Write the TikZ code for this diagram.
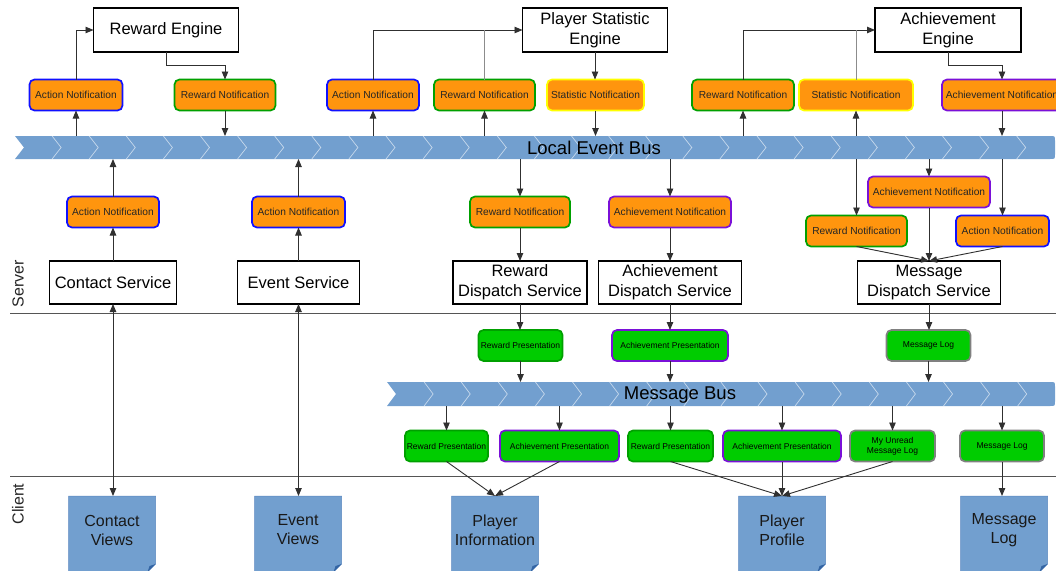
\documentclass[tikz,border=0pt]{standalone}
\usepackage{fontspec}
\setmainfont{Liberation Sans}
\usetikzlibrary{arrows.meta,backgrounds,calc}

\definecolor{notiforange}{HTML}{FF950E}
\definecolor{edgeblue}{HTML}{1010FF}
\definecolor{edgegreen}{HTML}{00A000}
\definecolor{edgeyellow}{HTML}{FFFF00}
\definecolor{edgepurple}{HTML}{7A10D8}
\definecolor{presgreen}{HTML}{00CC00}
\definecolor{presedge}{HTML}{00A000}
\definecolor{loggray}{HTML}{808080}
\definecolor{busblue}{HTML}{729FCF}
\definecolor{docblue}{HTML}{729FCF}
\definecolor{docedge}{HTML}{5B87C0}
\definecolor{folddark}{HTML}{3465A4}
\definecolor{wire}{HTML}{303030}
\definecolor{wirelight}{HTML}{8C8C8C}
\definecolor{rulegray}{HTML}{555555}

\tikzset{
  every node/.style={inner sep=0pt, outer sep=0pt},
  engine/.style={draw=black, line width=1.8pt, fill=white, align=center,
    font=\fontsize{16.5}{20}\selectfont, minimum height=44},
  notif/.style={rounded corners=5pt, fill=notiforange, line width=1.7pt,
    minimum height=31, font=\fontsize{10.2}{12}\selectfont, text=black!85},
  nblue/.style={notif, draw=edgeblue},
  ngreen/.style={notif, draw=edgegreen},
  nyellow/.style={notif, draw=edgeyellow},
  npurple/.style={notif, draw=edgepurple},
  pres/.style={rounded corners=5pt, fill=presgreen, line width=1.7pt, align=center,
    minimum height=31, font=\fontsize{8.5}{10}\selectfont},
  presR/.style={pres, draw=presedge},
  presA/.style={pres, draw=edgepurple},
  presL/.style={pres, draw=loggray},
  doc/.style={minimum width=87, minimum height=68, align=center,
    font=\fontsize{16}{19}\selectfont, text=black!90},
  buslabel/.style={font=\fontsize{18.5}{20}\selectfont, text=black},
  tierlabel/.style={rotate=90, font=\fontsize{16}{18}\selectfont, text=black!85},
  arr/.style={draw=wire, line width=0.9pt, -{Triangle[length=8pt,width=6.5pt]}},
  twoway/.style={draw=wire, line width=0.9pt,
    {Triangle[length=8pt,width=6.5pt]}-{Triangle[length=8pt,width=6.5pt]}},
  joinline/.style={draw=wirelight, line width=0.9pt},
  tierrule/.style={draw=rulegray, line width=0.8pt},
  chevron/.style={draw=white, draw opacity=0.6, line width=0.7pt},
}

\begin{document}
\begin{tikzpicture}[x=1pt, y=-1pt]
\useasboundingbox (0,0) rectangle (1056,570);

% ---------- engines ----------
\node[engine, minimum width=145] (reng) at (166,30) {Reward Engine};
\node[engine, minimum width=145] (peng) at (595,30) {Player Statistic\\Engine};
\node[engine, minimum width=146] (aeng) at (948,30) {Achievement\\Engine};

% ---------- notifications above the local event bus ----------
\node[nblue,   minimum width=93]  (an1)   at (76,95)    {Action Notification};
\node[ngreen,  minimum width=101] (rn1)   at (225,95)   {Reward Notification};
\node[nblue,   minimum width=92]  (an2)   at (373,95)   {Action Notification};
\node[ngreen,  minimum width=101] (rn2)   at (484.5,95) {Reward Notification};
\node[nyellow, minimum width=97]  (sn1)   at (595.5,95) {Statistic Notification};
\node[ngreen,  minimum width=102] (rn3)   at (743,95)   {Reward Notification};
\node[nyellow, minimum width=114] (sn2)   at (856,95)   {Statistic Notification};
\node[npurple, minimum width=120] (achn1) at (1002,95)  {Achievement Notification};

% ---------- local event bus ----------
\node[minimum width=1040, minimum height=23] (leb) at (535,147.5) {};
\fill[busblue] (leb.north west) -- ([xshift=-5pt]leb.north east)
  .. controls (leb.north east) .. ([yshift=-5pt]leb.north east)
  -- ([yshift=5pt]leb.south east)
  .. controls (leb.south east) .. ([xshift=-5pt]leb.south east)
  -- (leb.south west) -- ([xshift=9pt]leb.west) -- cycle;
\foreach \k in {1,...,27}
  \draw[chevron] ($(leb.north west)+(37.1*\k,0)$) -- ($(leb.west)+(37.1*\k+9,0)$)
    -- ($(leb.south west)+(37.1*\k,0)$);
\node[buslabel] (lebl) at (594,148) {Local Event Bus};

% ---------- notifications below the local event bus ----------
\node[nblue,   minimum width=92]  (an3)   at (113,212)   {Action Notification};
\node[nblue,   minimum width=93]  (an4)   at (298.5,212) {Action Notification};
\node[ngreen,  minimum width=100] (rn4)   at (520,212)   {Reward Notification};
\node[npurple, minimum width=122] (achn2) at (670,212)   {Achievement Notification};
\node[npurple, minimum width=122] (achn3) at (929,192)   {Achievement Notification};
\node[ngreen,  minimum width=101] (rn5)   at (856.5,231) {Reward Notification};
\node[nblue,   minimum width=93]  (an5)   at (1002.5,231){Action Notification};

% ---------- server side services ----------
\node[engine, minimum width=127, minimum height=43] (csvc) at (113,282.5)   {Contact Service};
\node[engine, minimum width=122, minimum height=43] (esvc) at (298.5,282.5) {Event Service};
\node[engine, minimum width=134, minimum height=43] (rds)  at (520,282.5)   {Reward\\Dispatch Service};
\node[engine, minimum width=143, minimum height=43] (ads)  at (670,282.5)   {Achievement\\Dispatch Service};
\node[engine, minimum width=143, minimum height=43] (mds)  at (929,282.5)   {Message\\Dispatch Service};

% ---------- tiers ----------
\node[tierlabel] (srv) at (18,284) {Server};
\node[tierlabel] (cli) at (18,504) {Client};
\draw[tierrule] (10,313) -- (1056,313);
\draw[tierrule] (10,476) -- (1056,476);

% ---------- presentations onto the message bus ----------
\node[presR, minimum width=84]  (rp1) at (520.5,345.5) {Reward Presentation};
\node[presA, minimum width=116] (ap1) at (670,345.5)   {Achievement Presentation};
\node[presL, minimum width=84]  (ml1) at (928.5,345.5) {Message Log};

% ---------- message bus ----------
\node[minimum width=668, minimum height=24] (mb) at (721,394) {};
\fill[busblue] (mb.north west) -- ([xshift=-5pt]mb.north east)
  .. controls (mb.north east) .. ([yshift=-5pt]mb.north east)
  -- ([yshift=5pt]mb.south east)
  .. controls (mb.south east) .. ([xshift=-5pt]mb.south east)
  -- (mb.south west) -- ([xshift=9pt]mb.west) -- cycle;
\foreach \k in {1,...,17}
  \draw[chevron] ($(mb.north west)+(37.1*\k,0)$) -- ($(mb.west)+(37.1*\k+9,0)$)
    -- ($(mb.south west)+(37.1*\k,0)$);
\node[buslabel] (mbl) at (680,395) {Message Bus};

% ---------- presentations delivered to the client ----------
\node[presR, minimum width=83]  (rp2) at (446.5,446) {Reward Presentation};
\node[presA, minimum width=119] (ap2) at (559.5,446) {Achievement Presentation};
\node[presR, minimum width=85]  (rp3) at (670.5,446) {Reward Presentation};
\node[presA, minimum width=118] (ap3) at (782,446)   {Achievement Presentation};
\node[presL, minimum width=85]  (mu)  at (892.5,446) {My Unread\\Message Log};
\node[presL, minimum width=84]  (ml2) at (1002,446)  {Message Log};

% ---------- client views ----------
\node[doc] (cv)   at (112,530)  {Contact\\Views};
\node[doc] (ev)   at (298,530)  {Event\\Views};
\node[doc] (pi)   at (495,530)  {Player\\Information};
\node[doc] (pp)   at (782,530)  {Player\\Profile};
\node[doc] (mlog) at (1004,530) {Message\\Log};
\begin{scope}[on background layer]
  \foreach \d in {cv,ev,pi,pp,mlog} {
    \filldraw[fill=docblue, draw=docedge, line width=0.5pt]
      (\d.north west) -- (\d.north east) -- (\d.south east)
      -- ([xshift=-8pt,yshift=-8pt]\d.south east) -- ([yshift=-8pt]\d.south west) -- cycle;
    \fill[folddark] (\d.south east) -- ([xshift=-8pt,yshift=-8pt]\d.south east)
      -- ([xshift=-6pt,yshift=-2pt]\d.south east) -- cycle;
  }
\end{scope}

% ---------- connectors: engines and local event bus ----------
\draw[arr] (an1 |- leb.north) -- (an1.south);
\draw[arr] (an1.north) |- (reng.west);
\draw[arr] (reng.south) -- ++(0,13) -| (rn1.north);
\draw[arr] (rn1.south) -- (rn1 |- leb.north);

\draw[arr] (an2 |- leb.north) -- (an2.south);
\draw[arr] (an2.north) |- (peng.west);
\draw[arr] (rn2 |- leb.north) -- (rn2.south);
\draw[joinline] (rn2.north) -- (rn2 |- peng.west);
\draw[arr] (peng.south) -- (peng.south |- sn1.north);
\draw[arr] (sn1.south) -- (sn1 |- leb.north);

\draw[arr] (rn3 |- leb.north) -- (rn3.south);
\draw[arr] (rn3.north) |- (aeng.west);
\draw[arr] (sn2 |- leb.north) -- (sn2.south);
\draw[joinline] (sn2.north) -- (sn2 |- aeng.west);
\draw[arr] (aeng.south) -- ++(0,13) -| (achn1.north);
\draw[arr] (achn1.south) -- (achn1 |- leb.north);

% ---------- connectors: services ----------
\draw[arr] (csvc.north) -- (an3.south);
\draw[arr] (an3.north) -- (an3 |- leb.south);
\draw[arr] (esvc.north) -- (an4.south);
\draw[arr] (an4.north) -- (an4 |- leb.south);

\draw[arr] (leb.south -| rn4) -- (rn4.north);
\draw[arr] (rn4.south) -- (rds.north);
\draw[arr] (leb.south -| achn2) -- (achn2.north);
\draw[arr] (achn2.south) -- (ads.north);

\draw[arr] (leb.south -| rn5) -- (rn5.north);
\draw[arr] (leb.south -| achn3) -- (achn3.north);
\draw[arr] (leb.south -| an5) -- (an5.north);
\draw[arr] (rn5.south) -- (mds.north);
\draw[arr] (achn3.south) -- (mds.north);
\draw[arr] (an5.south) -- (mds.north);

% ---------- connectors: message bus ----------
\draw[arr] (rds.south) -- (rds.south |- rp1.north);
\draw[arr] (ads.south) -- (ap1.north);
\draw[arr] (mds.south) -- (mds.south |- ml1.north);
\draw[arr] (rp1.south) -- (rp1.south |- mb.north);
\draw[arr] (ap1.south) -- (ap1.south |- mb.north);
\draw[arr] (ml1.south) -- (ml1.south |- mb.north);

\foreach \p in {rp2,ap2,rp3,ap3,mu,ml2}
  \draw[arr] (mb.south -| \p) -- (\p.north);

% ---------- connectors: client ----------
\draw[twoway] (csvc.south) -- (csvc.south |- cv.north);
\draw[twoway] (esvc.south) -- (esvc.south |- ev.north);
\draw[arr] (rp2.south) -- (pi.north);
\draw[arr] (ap2.south) -- (pi.north);
\draw[arr] (rp3.south) -- (pp.north);
\draw[arr] (ap3.south) -- (pp.north);
\draw[arr] (mu.south) -- (pp.north);
\draw[arr] (ml2.south) -- (ml2.south |- mlog.north);
\end{tikzpicture}
\end{document}
